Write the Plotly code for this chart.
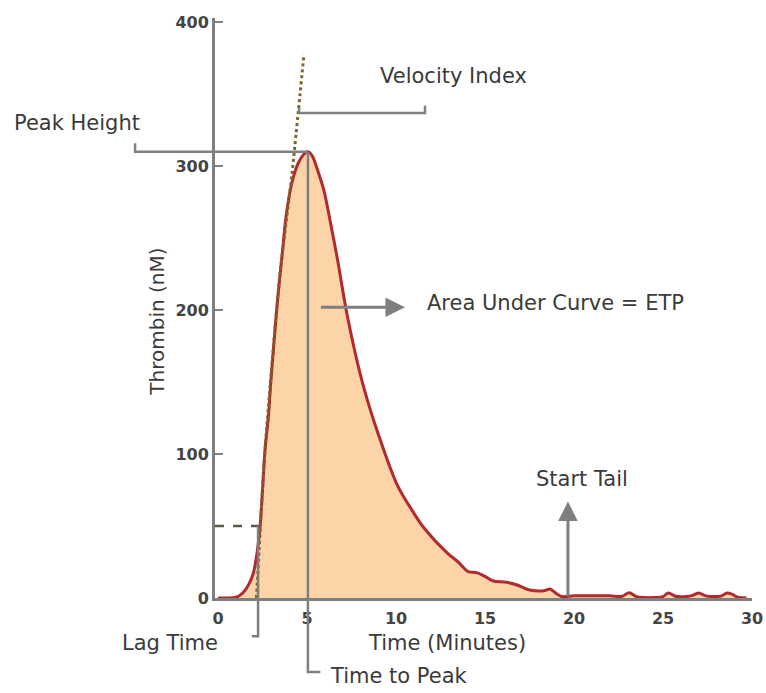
import plotly.graph_objects as go

# ---------------- data ----------------
time_min = [0, 0.5, 1.0, 1.24, 1.5, 1.75, 1.98, 2.2, 2.36, 2.5, 2.64, 2.83, 2.96, 3.11,
            3.26, 3.44, 3.63, 3.82, 4.14, 4.5, 4.8, 5.05, 5.3, 5.6, 5.95, 6.3, 6.7, 7.25,
            8.0, 8.5, 9.0, 10.05, 11.0, 11.55, 12.9, 13.5, 14.06, 14.53, 15.0, 15.47,
            16.2, 16.8, 17.5, 18.3, 18.65, 19.0, 19.3, 20.0, 21.0, 22.0, 22.7, 23.1,
            23.5, 23.9, 24.5, 25.0, 25.3, 25.7, 26.3, 26.7, 27.0, 27.4, 27.8, 28.3,
            28.6, 28.9, 29.2, 29.7]
thrombin_nM = [0, 0, 0.5, 2, 5, 10, 17, 32, 49.5, 75, 103, 126, 149, 172,
               195, 219, 242, 265, 288, 302, 308, 310, 307, 297, 283, 262, 236, 197,
               155, 133, 114, 79, 59, 49, 31, 25, 18.3, 17.6, 15, 11.8,
               10.9, 9, 5.6, 5, 6.3, 3.2, 1, 1.5, 1.5, 1.5, 1.2, 3.7,
               1, 0.3, 0.3, 1, 3.5, 1.2, 1, 2, 3.5, 1.5, 1, 1.5,
               3.5, 2.5, 0.5, 0]

# velocity-index tangent (dotted)
tangent_t = [2.16, 2.62, 3.45, 4.15, 4.83]
tangent_v = [0, 100, 222, 294, 378]

lag_time = 2.25          # minutes
lag_level = 50           # nM (dashed threshold)
peak_time = 5.05
peak_height = max(thrombin_nM)
start_tail = 19.66

x_ticks = [0, 5, 10, 15, 20, 25, 30]
y_ticks = [0, 100, 200, 300, 400]

X_RANGE = [-0.17, 30]
Y_RANGE = [0, 403]

GREY = "#7f7f7f"
TXT = "#3a3a3a"
FONT = "DejaVu Sans"


def xp(t):
    return (t - X_RANGE[0]) / (X_RANGE[1] - X_RANGE[0])


def yp(v):
    return (v - Y_RANGE[0]) / (Y_RANGE[1] - Y_RANGE[0])


fig = go.Figure()

fig.add_trace(go.Scatter(
    x=time_min, y=thrombin_nM, mode="lines",
    line=dict(color="#b02a2e", width=3, shape="spline", smoothing=0.9),
    fill="tozeroy", fillcolor="#fdd4a8", hoverinfo="skip", showlegend=False))

fig.add_trace(go.Scatter(
    x=tangent_t, y=tangent_v, mode="lines",
    line=dict(color="#7d6529", width=3, dash="dot", shape="spline", smoothing=0.5),
    hoverinfo="skip", showlegend=False))

# dashed lag threshold
fig.add_trace(go.Scatter(
    x=[X_RANGE[0], 2.36], y=[lag_level, lag_level], mode="lines",
    line=dict(color="#5e5a4a", width=2.5, dash="dash"),
    hoverinfo="skip", showlegend=False))

shapes = []
# Peak height bracket (extends left of plot)
shapes.append(dict(type="path", xref="paper", yref="y",
                   path=f"M {xp(-4.66)},{peak_height+6} L {xp(-4.66)},{peak_height} L {xp(peak_time)},{peak_height}",
                   line=dict(color=GREY, width=2.5)))
# Velocity index bracket
shapes.append(dict(type="path", xref="x", yref="y",
                   path="M 4.55,341 L 4.55,337 L 11.63,337 L 11.63,342",
                   line=dict(color=GREY, width=2.5)))
# Lag time line
shapes.append(dict(type="path", xref="x", yref="paper",
                   path=f"M {lag_time},{yp(lag_level)} L {lag_time},{yp(-26.5)} L {lag_time-0.35},{yp(-26.5)}",
                   line=dict(color=GREY, width=2.5)))
# Time to peak line
shapes.append(dict(type="path", xref="x", yref="paper",
                   path=f"M {peak_time},{yp(peak_height)} L {peak_time},{yp(-51.4)} L {peak_time+0.7},{yp(-51.4)}",
                   line=dict(color=GREY, width=2.5)))
fig.update_layout(shapes=shapes)

annotations = []
# arrows
annotations.append(dict(x=start_tail, y=67, ax=start_tail, ay=0, xref="x", yref="y",
                        axref="x", ayref="y", text="", showarrow=True,
                        arrowhead=2, arrowsize=1.3, arrowwidth=3, arrowcolor=GREY))
annotations.append(dict(x=10.5, y=202, ax=5.7, ay=202, xref="x", yref="y",
                        axref="x", ayref="y", text="", showarrow=True,
                        arrowhead=2, arrowsize=1.3, arrowwidth=3, arrowcolor=GREY))


def label(text, t, v, anchor="left", size=21, angle=0):
    annotations.append(dict(text=text, x=xp(t), y=yp(v), xref="paper", yref="paper",
                            xanchor=anchor, yanchor="middle", showarrow=False,
                            textangle=angle, font=dict(family=FONT, size=size, color=TXT)))


label("Peak Height", -11.57, 330)
label("Velocity Index", 8.99, 363)
label("Area Under Curve = ETP", 11.63, 205)
label("Start Tail", 20.45, 83, anchor="center")
label("Lag Time", 0.11, -31, anchor="right")
label("Time to Peak", 6.18, -54)
label("Time (Minutes)", 12.87, -31, anchor="center")
label("Thrombin (nM)", -3.43, 192, anchor="center", size=20, angle=-90)
fig.update_layout(annotations=annotations)

fig.update_layout(
    width=766, height=693,
    margin=dict(l=215, r=14, t=18, b=95, pad=0),
    paper_bgcolor="white", plot_bgcolor="white",
    showlegend=False,
    xaxis=dict(range=X_RANGE, tickvals=x_ticks, ticktext=[str(v) for v in x_ticks],
               automargin=False, ticklabelstandoff=4,
               showgrid=False, zeroline=False, showline=True, linecolor=GREY, linewidth=3,
               ticks="", tickfont=dict(family=FONT, size=16, color="#444444", weight="bold")),
    yaxis=dict(range=Y_RANGE, tickvals=y_ticks, ticktext=[str(v) for v in y_ticks],
               automargin=False,
               showgrid=False, zeroline=False, showline=True, linecolor=GREY, linewidth=3,
               ticks="inside", ticklen=8, tickwidth=2, tickcolor=GREY,
               tickfont=dict(family=FONT, size=16, color="#444444", weight="bold")),
)

fig.write_html("out.html")
